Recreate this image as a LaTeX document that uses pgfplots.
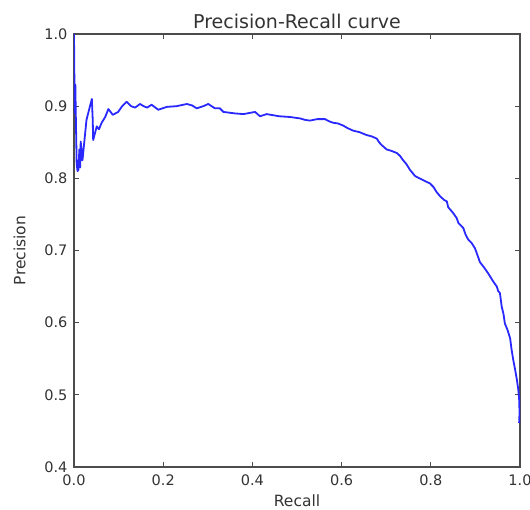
\documentclass[border=0pt]{standalone}
\usepackage{pgfplots}
\pgfplotsset{compat=1.18}
\usepackage{fontspec}
\setmainfont{DejaVu Sans}
\begin{document}
\begin{tikzpicture}
\begin{axis}[
  scale only axis,
  width=446pt, height=433pt,
  xmin=0, xmax=1, ymin=0.4, ymax=1.0,
  xtick={0,0.2,0.4,0.6,0.8,1.0},
  ytick={0.4,0.5,0.6,0.7,0.8,0.9,1.0},
  /pgf/number format/fixed,
  /pgf/number format/fixed zerofill,
  /pgf/number format/precision=1,
  /pgf/number format/assume math mode=true,
  tick align=inside,
  major tick length=5pt,
  tick style={black!70, line width=1pt},
  axis line style={black!70, line width=1.6pt},
  ticklabel style={font=\fontsize{14.5}{16}\selectfont, text=black!80},
  xticklabel style={yshift=-4pt},
  yticklabel style={xshift=-3pt},
  title={Precision-Recall curve},
  title style={font=\fontsize{19}{22}\selectfont, text=black!80, yshift=-4pt},
  xlabel={Recall},
  ylabel={Precision},
  label style={font=\fontsize{15.5}{18}\selectfont, text=black!80},
  xlabel style={yshift=-2pt},
  ylabel style={yshift=12pt},
]
\addplot[color={rgb,255:red,40;green,40;blue,255}, line width=1.8pt, line join=round] coordinates {
(0,1.0) (0.001,0.93) (0.002,0.89) (0.003,0.93) (0.004,0.89) (0.006,0.82)
(0.008,0.81) (0.010,0.812) (0.012,0.84) (0.014,0.815) (0.015,0.851)
(0.019,0.825) (0.028,0.881) (0.040,0.910) (0.042,0.881) (0.043,0.853)
(0.051,0.872) (0.056,0.868) (0.062,0.877) (0.070,0.885) (0.077,0.896)
(0.087,0.888) (0.099,0.892) (0.108,0.900) (0.118,0.906) (0.128,0.900)
(0.137,0.898) (0.148,0.903) (0.156,0.900) (0.164,0.898) (0.174,0.902)
(0.189,0.895) (0.208,0.899) (0.230,0.900) (0.253,0.903) (0.265,0.901)
(0.275,0.897) (0.290,0.900) (0.301,0.903) (0.316,0.897) (0.327,0.897)
(0.335,0.892) (0.360,0.890) (0.380,0.889) (0.406,0.892) (0.417,0.886)
(0.432,0.889) (0.460,0.886) (0.484,0.885) (0.507,0.883) (0.518,0.881)
(0.529,0.880) (0.545,0.882) (0.563,0.882) (0.572,0.879) (0.581,0.877)
(0.592,0.876) (0.604,0.873) (0.612,0.870) (0.626,0.866) (0.640,0.864)
(0.656,0.860) (0.668,0.858) (0.679,0.855) (0.684,0.850) (0.690,0.846)
(0.701,0.840) (0.712,0.838) (0.724,0.835) (0.731,0.831) (0.738,0.825)
(0.745,0.820) (0.753,0.812) (0.765,0.803) (0.778,0.799) (0.791,0.795)
(0.798,0.793) (0.806,0.788) (0.813,0.781) (0.821,0.775) (0.830,0.770)
(0.836,0.768) (0.839,0.760) (0.850,0.752) (0.858,0.745) (0.862,0.738)
(0.873,0.731) (0.878,0.722) (0.884,0.715) (0.892,0.710) (0.899,0.703)
(0.905,0.693) (0.910,0.684) (0.920,0.676) (0.929,0.668) (0.935,0.662)
(0.940,0.657) (0.948,0.650) (0.951,0.644) (0.955,0.641) (0.959,0.622)
(0.963,0.612) (0.966,0.599) (0.972,0.590) (0.978,0.578) (0.981,0.563)
(0.985,0.548) (0.989,0.535) (0.993,0.521) (0.996,0.508) (0.998,0.495)
(0.999,0.475) (0.998,0.461)
};
\end{axis}
\pgfresetboundingbox
\path[use as bounding box] (-74pt,-43pt) rectangle (456pt,467pt);
\end{tikzpicture}
\end{document}
